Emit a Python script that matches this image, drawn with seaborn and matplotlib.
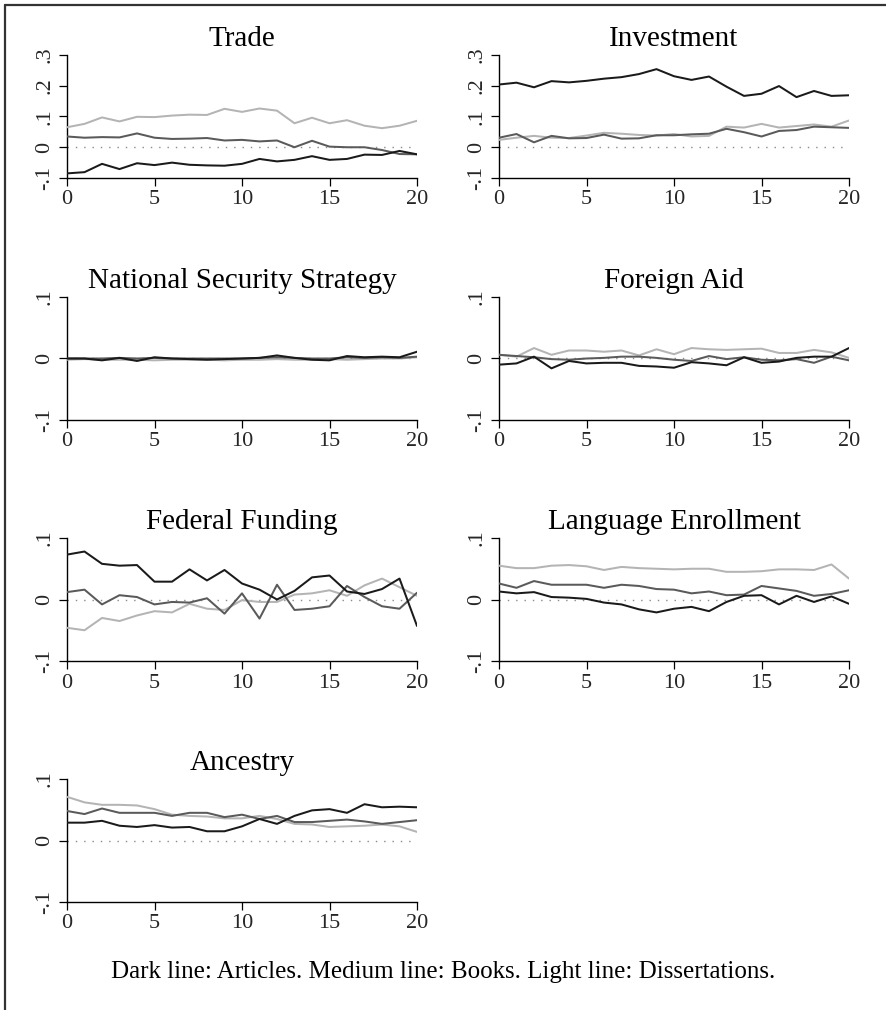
import numpy as np
import pandas as pd
import matplotlib
matplotlib.use("Agg")
import matplotlib.pyplot as plt
from matplotlib.lines import Line2D
import seaborn as sns

# Horizon (years after shock)
horizon = list(range(21))

panels = ["Trade", "Investment", "National Security Strategy", "Foreign Aid",
          "Federal Funding", "Language Enrollment", "Ancestry"]

trade_articles = [-0.085, -0.081, -0.054, -0.071, -0.052, -0.058, -0.050, -0.057, -0.059, -0.060, -0.054,
                  -0.038, -0.046, -0.041, -0.029, -0.041, -0.038, -0.024, -0.025, -0.012, -0.023]
trade_books = [0.035, 0.031, 0.033, 0.032, 0.045, 0.031, 0.027, 0.028, 0.030, 0.022, 0.024,
               0.019, 0.022, 0.000, 0.021, 0.002, 0.000, 0.000, -0.009, -0.022, -0.023]
trade_dissertations = [0.065, 0.076, 0.097, 0.084, 0.099, 0.098, 0.103, 0.106, 0.105, 0.125, 0.115,
                       0.126, 0.119, 0.078, 0.096, 0.078, 0.088, 0.070, 0.062, 0.070, 0.086]

investment_articles = [0.204, 0.210, 0.195, 0.215, 0.211, 0.216, 0.223, 0.228, 0.238, 0.254, 0.231,
                       0.219, 0.230, 0.197, 0.167, 0.174, 0.199, 0.163, 0.183, 0.167, 0.169]
investment_books = [0.031, 0.043, 0.016, 0.037, 0.029, 0.030, 0.041, 0.028, 0.029, 0.039, 0.039,
                    0.042, 0.044, 0.060, 0.049, 0.035, 0.053, 0.056, 0.067, 0.065, 0.063]
investment_dissertations = [0.024, 0.031, 0.037, 0.031, 0.030, 0.038, 0.047, 0.044, 0.040, 0.038, 0.043,
                            0.035, 0.037, 0.067, 0.064, 0.076, 0.064, 0.069, 0.074, 0.067, 0.087]

nss_articles = [0.000, 0.000, -0.003, 0.001, -0.004, 0.002, 0.000, -0.001, -0.002, -0.001, 0.000,
                0.001, 0.005, 0.001, -0.002, -0.003, 0.004, 0.002, 0.003, 0.002, 0.011]
nss_books = [0.000, 0.000, 0.000, 0.001, 0.000, 0.001, 0.000, 0.000, 0.000, 0.000, 0.000,
             0.001, 0.002, 0.001, 0.000, 0.000, 0.002, 0.001, 0.002, 0.001, 0.003]
nss_dissertations = [-0.002, -0.001, -0.002, -0.002, -0.002, -0.003, -0.002, -0.002, -0.002, -0.003, -0.002,
                     -0.002, -0.001, -0.002, -0.002, -0.001, -0.002, -0.001, 0.000, 0.000, 0.002]

aid_articles = [-0.010, -0.008, 0.003, -0.016, -0.004, -0.008, -0.007, -0.007, -0.012, -0.013, -0.015,
                -0.006, -0.008, -0.011, 0.002, -0.007, -0.005, 0.001, 0.003, 0.003, 0.017]
aid_books = [0.006, 0.004, 0.002, -0.001, -0.002, 0.000, 0.001, 0.003, 0.003, 0.001, -0.002,
             -0.004, 0.004, -0.001, 0.002, -0.002, -0.003, -0.001, -0.007, 0.003, -0.003]
aid_dissertations = [0.006, 0.003, 0.017, 0.006, 0.013, 0.013, 0.011, 0.013, 0.005, 0.015, 0.007,
                     0.017, 0.015, 0.014, 0.015, 0.016, 0.009, 0.009, 0.014, 0.010, 0.001]

funding_articles = [0.073, 0.078, 0.058, 0.055, 0.056, 0.029, 0.029, 0.049, 0.031, 0.048, 0.026,
                    0.016, 0.000, 0.014, 0.036, 0.039, 0.013, 0.009, 0.017, 0.034, -0.043]
funding_books = [0.012, 0.016, -0.008, 0.007, 0.004, -0.008, -0.004, -0.005, 0.002, -0.023, 0.010,
                 -0.031, 0.024, -0.017, -0.015, -0.011, 0.022, 0.004, -0.011, -0.015, 0.011]
funding_dissertations = [-0.046, -0.050, -0.030, -0.035, -0.026, -0.019, -0.021, -0.007, -0.015, -0.017, -0.001,
                         -0.004, -0.004, 0.008, 0.010, 0.015, 0.006, 0.023, 0.034, 0.020, 0.006]

language_articles = [0.013, 0.010, 0.012, 0.004, 0.003, 0.001, -0.005, -0.008, -0.016, -0.021, -0.015,
                     -0.012, -0.019, -0.004, 0.006, 0.007, -0.008, 0.006, -0.004, 0.005, -0.007]
language_books = [0.026, 0.019, 0.030, 0.024, 0.024, 0.024, 0.019, 0.024, 0.022, 0.017, 0.016,
                  0.010, 0.013, 0.007, 0.008, 0.022, 0.018, 0.014, 0.006, 0.009, 0.015]
language_dissertations = [0.055, 0.051, 0.051, 0.055, 0.056, 0.054, 0.048, 0.053, 0.051, 0.050, 0.049,
                          0.050, 0.050, 0.045, 0.045, 0.046, 0.049, 0.049, 0.048, 0.057, 0.034]

ancestry_articles = [0.029, 0.029, 0.032, 0.024, 0.022, 0.025, 0.021, 0.022, 0.015, 0.015, 0.023,
                     0.035, 0.027, 0.040, 0.049, 0.051, 0.045, 0.059, 0.054, 0.055, 0.054]
ancestry_books = [0.048, 0.043, 0.052, 0.045, 0.045, 0.045, 0.040, 0.045, 0.045, 0.038, 0.042,
                  0.035, 0.040, 0.030, 0.030, 0.032, 0.034, 0.031, 0.027, 0.030, 0.033]
ancestry_dissertations = [0.071, 0.062, 0.058, 0.058, 0.057, 0.051, 0.042, 0.040, 0.039, 0.036, 0.036,
                          0.040, 0.035, 0.027, 0.026, 0.022, 0.023, 0.024, 0.026, 0.023, 0.014]

articles = [trade_articles, investment_articles, nss_articles, aid_articles,
            funding_articles, language_articles, ancestry_articles]
books = [trade_books, investment_books, nss_books, aid_books,
         funding_books, language_books, ancestry_books]
dissertations = [trade_dissertations, investment_dissertations, nss_dissertations, aid_dissertations,
                 funding_dissertations, language_dissertations, ancestry_dissertations]

caption = "Dark line: Articles. Medium line: Books. Light line: Dissertations."

# Long-format table for seaborn
rows = []
for p, a, b, d in zip(panels, articles, books, dissertations):
    for src, vals in (("Dissertations", d), ("Books", b), ("Articles", a)):
        for h, v in zip(horizon, vals):
            rows.append({"panel": p, "source": src, "horizon": h, "value": v})
df = pd.DataFrame(rows)

sns.set_theme(style="ticks")
plt.rcParams["font.family"] = ["Liberation Serif", "DejaVu Serif"]

palette = {"Articles": "#1a1a1a", "Books": "#5a5a5a", "Dissertations": "#b4b4b4"}

W, H = 886, 1010
fig = plt.figure(figsize=(W / 100, H / 100), dpi=100)
fig.patch.set_facecolor("white")

col_left = [67, 499]
ax_w = 350
row_top = [55, 297, 538, 779]
ax_h = 123


def fmt(v):
    if abs(v) < 1e-9:
        return "0"
    s = f"{v:.1f}"
    return s.replace("0.", ".")


for i, p in enumerate(panels):
    r, c = divmod(i, 2)
    left = col_left[c] / W
    bottom = 1 - (row_top[r] + ax_h) / H
    ax = fig.add_axes([left, bottom, ax_w / W, ax_h / H])
    ax.set_facecolor("white")
    sub = df[df["panel"] == p]
    ax.axhline(0, color="#8a8a8a", lw=1.0, ls=(0, (1, 5)), zorder=1)
    sns.lineplot(data=sub, x="horizon", y="value", hue="source", palette=palette,
                 hue_order=["Dissertations", "Books", "Articles"],
                 lw=1.45, legend=False, ax=ax, zorder=3)
    ax.set_xlim(0, 20)
    if r == 0:
        ax.set_ylim(-0.1, 0.3)
        yt = [-0.1, 0.0, 0.1, 0.2, 0.3]
    else:
        ax.set_ylim(-0.1, 0.1)
        yt = [-0.1, 0.0, 0.1]
    ax.set_yticks(yt)
    ax.set_yticklabels([fmt(v) for v in yt], rotation=90, va="center")
    ax.set_xticks([0, 5, 10, 15, 20])
    ax.set_xticklabels(["0", "5", "10", "15", "20"])
    ax.tick_params(axis="both", length=6, width=0.9, color="black", labelsize=16, pad=3)
    for s in ("top", "right"):
        ax.spines[s].set_visible(False)
    for s in ("left", "bottom"):
        ax.spines[s].set_color("black")
        ax.spines[s].set_linewidth(1.0)
    ax.set_xlabel("")
    ax.set_ylabel("")
    ax.set_title(p, fontsize=21, pad=6.5, color="black")

fig.text(0.5, 1 - 972 / H, caption, ha="center", va="center", fontsize=18, color="black")

# Frame lines along the top and left edges of the figure
fig.add_artist(Line2D([5 / W, 1], [1 - 5 / H, 1 - 5 / H], color="#333333", lw=1.6,
                      transform=fig.transFigure))
fig.add_artist(Line2D([5 / W, 5 / W], [0, 1 - 5 / H], color="#333333", lw=1.6,
                      transform=fig.transFigure))

fig.savefig("out.png", dpi=100, facecolor="white")
